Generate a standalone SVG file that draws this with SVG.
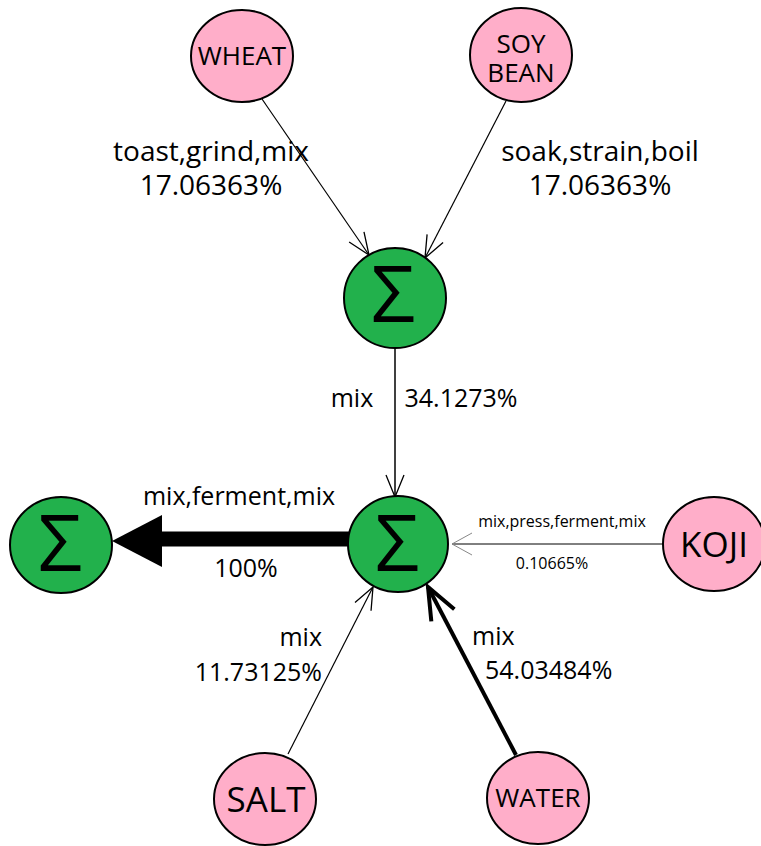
<svg xmlns="http://www.w3.org/2000/svg" width="761" height="846" viewBox="0 0 761 846">
  <style>
    .src { fill: #FFAEC9; stroke: #000; stroke-width: 2; }
    .sum { fill: #22B14C; stroke: #000; stroke-width: 2; }
    text { font-family: "Open Sans", "Liberation Sans", sans-serif; fill: #000; }
    .lbl { font-size: 25px; }
    .lbl-top { font-size: 28px; }
    .small { font-size: 16px; }
    .sigma { font-size: 78px; text-anchor: middle; }
    .name { text-anchor: middle; }
    .edge { fill: none; stroke: #000; }
  </style>
  <defs>
    <marker id="open" markerUnits="userSpaceOnUse" markerWidth="40" markerHeight="40" refX="0" refY="0" orient="auto" overflow="visible">
      <path d="M-22,-9 L0,0 L-22,9" fill="none" stroke="#000" stroke-width="1.3"/>
    </marker>
    <marker id="open-gray" markerUnits="userSpaceOnUse" markerWidth="40" markerHeight="40" refX="0" refY="0" orient="auto" overflow="visible">
      <path d="M-20,-11 L0,0 L-20,11" fill="none" stroke="#888" stroke-width="1"/>
    </marker>
    <marker id="open-bold" markerUnits="userSpaceOnUse" markerWidth="50" markerHeight="50" refX="0" refY="0" orient="auto" overflow="visible">
      <path d="M-32,-13 L0,0 L-32,13" fill="none" stroke="#000" stroke-width="4"/>
    </marker>
  </defs>

  <!-- connectors -->
  <g id="connectors">
    <line class="edge" x1="262" y1="99" x2="369" y2="255" stroke-width="1.2" marker-end="url(#open)"/>
    <line class="edge" x1="506" y1="101" x2="425" y2="258" stroke-width="1.2" marker-end="url(#open)"/>
    <line class="edge" x1="395" y1="349" x2="395" y2="497" stroke-width="1.5" marker-end="url(#open)"/>
    <line class="edge" x1="663" y1="544" x2="452" y2="544" stroke="#888" stroke-width="1" marker-end="url(#open-gray)"/>
    <line class="edge" x1="288" y1="754" x2="373" y2="587" stroke-width="1.2" marker-end="url(#open)"/>
    <line class="edge" x1="516" y1="755" x2="428" y2="587" stroke-width="4" marker-end="url(#open-bold)"/>
    <!-- main output: heavy shaft with solid head -->
    <line class="edge" x1="349" y1="539" x2="158" y2="539" stroke-width="15"/>
    <polygon points="112,541 162,515 162,567" fill="#000"/>
  </g>

  <!-- edge labels -->
  <g id="edge-labels">
    <text class="lbl-top" x="211" y="161" text-anchor="middle">toast,grind,mix</text>
    <text class="lbl-top" x="211" y="195" text-anchor="middle">17.06363%</text>
    <text class="lbl-top" x="600" y="161" text-anchor="middle">soak,strain,boil</text>
    <text class="lbl-top" x="600" y="195" text-anchor="middle">17.06363%</text>
    <text class="lbl" x="352" y="407" text-anchor="middle">mix</text>
    <text class="lbl" x="461" y="407" text-anchor="middle">34.1273%</text>
    <text class="lbl" x="239" y="505" text-anchor="middle">mix,ferment,mix</text>
    <text class="lbl" x="246" y="577" text-anchor="middle">100%</text>
    <text class="small" x="562" y="527" text-anchor="middle">mix,press,ferment,mix</text>
    <text class="small" x="552" y="569" text-anchor="middle">0.10665%</text>
    <text class="lbl" x="322" y="646" text-anchor="end">mix</text>
    <text class="lbl" x="322" y="681" text-anchor="end">11.73125%</text>
    <text class="lbl" x="472" y="645">mix</text>
    <text class="lbl" x="485" y="679">54.03484%</text>
  </g>

  <!-- source nodes -->
  <g id="wheat">
    <ellipse class="src" cx="242" cy="56" rx="51" ry="46"/>
    <text class="name" x="242" y="65" font-size="26">WHEAT</text>
  </g>
  <g id="soybean">
    <ellipse class="src" cx="521" cy="55" rx="51" ry="47"/>
    <text class="name" font-size="26"><tspan x="521" y="53">SOY</tspan><tspan x="521" y="82">BEAN</tspan></text>
  </g>
  <g id="koji">
    <ellipse class="src" cx="714" cy="544" rx="51" ry="47"/>
    <text class="name" x="714" y="557" font-size="35">KOJI</text>
  </g>
  <g id="salt">
    <ellipse class="src" cx="265" cy="799" rx="51" ry="46"/>
    <text class="name" x="266" y="812" font-size="35">SALT</text>
  </g>
  <g id="water">
    <ellipse class="src" cx="538" cy="798" rx="51" ry="46"/>
    <text class="name" x="538" y="807" font-size="26">WATER</text>
  </g>

  <!-- summing nodes -->
  <g id="sum-top">
    <ellipse class="sum" cx="395" cy="298" rx="51" ry="50"/>
    <text class="sigma" x="393" y="322">Σ</text>
  </g>
  <g id="sum-mid">
    <ellipse class="sum" cx="398" cy="544" rx="50" ry="48"/>
    <text class="sigma" x="397" y="571">Σ</text>
  </g>
  <g id="sum-out">
    <ellipse class="sum" cx="61" cy="545" rx="51" ry="48"/>
    <text class="sigma" x="60" y="571">Σ</text>
  </g>
</svg>
